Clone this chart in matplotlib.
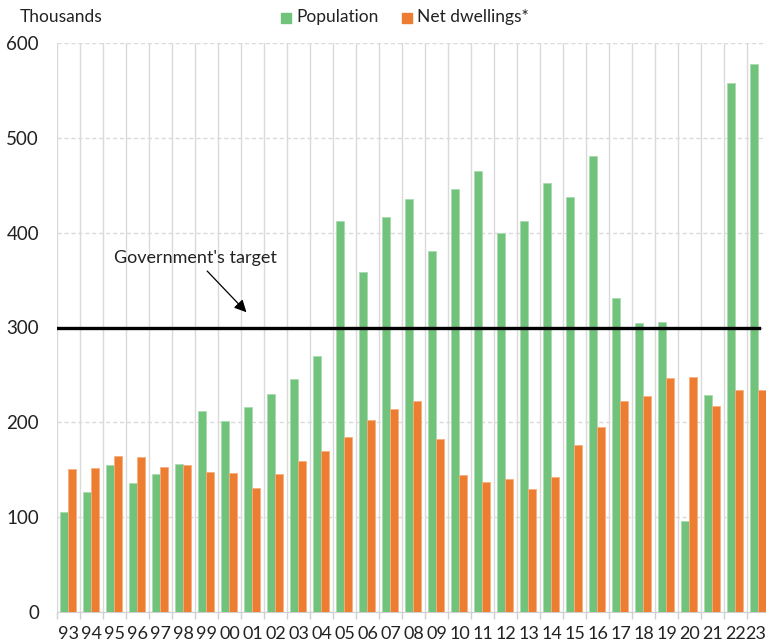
import numpy as np
import matplotlib.pyplot as plt
import matplotlib.transforms as mtransforms

years = ["93", "94", "95", "96", "97", "98", "99", "00", "01", "02", "03", "04",
         "05", "06", "07", "08", "09", "10", "11", "12", "13", "14", "15", "16",
         "17", "18", "19", "20", "21", "22", "23"]
population = [105, 127, 155, 136, 146, 156, 212, 201, 216, 230, 246, 270,
              412, 359, 416, 435, 381, 446, 465, 400, 412, 452, 438, 481,
              331, 305, 306, 96, 229, 558, 578]
dwellings = [151, 152, 165, 163, 153, 155, 148, 147, 131, 146, 159, 170,
             185, 202, 214, 223, 182, 144, 137, 140, 130, 142, 176, 195,
             223, 228, 247, 248, 217, 234, 234]
target = 300

green = "#71c27a"
orange = "#ed7d31"

plt.rcParams['font.family'] = ['Lato', 'DejaVu Sans']

fig = plt.figure(figsize=(7.66, 6.43), dpi=100)
ax = fig.add_axes([57 / 766, 31 / 643, 713 / 766, 569 / 643])

x = np.arange(len(years))
w = 0.36
ax.bar(x - 0.19, population, width=w, color=green, edgecolor="#a9dbb0", linewidth=0.6, zorder=3)
ax.bar(x + 0.165, dwellings, width=w, color=orange, edgecolor="#f5ae80", linewidth=0.6, zorder=3)

# target line and its label
ax.axhline(target, xmin=0, xmax=702 / 713, color="black", linewidth=2.4, zorder=4)
ax.annotate("Government's target", xy=(7.82, 314), xytext=(5.5, 373),
            ha="center", va="center", fontsize=13, color="#222222",
            arrowprops=dict(arrowstyle="-|>", color="black", lw=0.9, mutation_scale=18))

ax.set_xlim(-0.5, len(years) - 0.5)
ax.set_ylim(0, 600)
ax.set_xticks(x)
ax.set_xticklabels(years)
ax.set_xticks(np.arange(len(years) + 1) - 0.5, minor=True)
ax.set_yticks(range(0, 601, 100))

ax.tick_params(axis="x", which="major", length=0, labelsize=13, pad=10, colors="#222222")
ax.tick_params(axis="x", which="minor", length=5, color="#d0d0d0", width=1)
ax.tick_params(axis="y", length=0, labelsize=13.5, pad=13, colors="#222222")

# nudge the last year label so it stays inside the picture
last = ax.get_xticklabels()[-1]
last.set_transform(last.get_transform() + mtransforms.ScaledTranslation(-3 / 100, 0, fig.dpi_scale_trans))

ax.grid(axis="x", which="minor", color="#dadada", linewidth=1, zorder=0)
ax.grid(axis="y", which="major", color="#dadada", linestyle=(0, (3, 2)), linewidth=1, zorder=0)

for s in ["top", "right", "left"]:
    ax.spines[s].set_visible(False)
ax.spines["bottom"].set_color("#d0d0d0")

# header: unit label and legend
fig.text(20 / 766, 1 - 17 / 643, "Thousands", ha="left", va="center", fontsize=12.5, color="#222222")
fig.patches.append(plt.Rectangle((281 / 766, 1 - 23 / 643), 10 / 766, 10 / 643,
                                 transform=fig.transFigure, color=green, figure=fig))
fig.text(296 / 766, 1 - 17 / 643, "Population", ha="left", va="center", fontsize=12.5, color="#222222")
fig.patches.append(plt.Rectangle((402 / 766, 1 - 23 / 643), 10 / 766, 10 / 643,
                                 transform=fig.transFigure, color=orange, figure=fig))
fig.text(417 / 766, 1 - 17 / 643, "Net dwellings*", ha="left", va="center", fontsize=12.5, color="#222222")

fig.savefig("out.png", dpi=100)
